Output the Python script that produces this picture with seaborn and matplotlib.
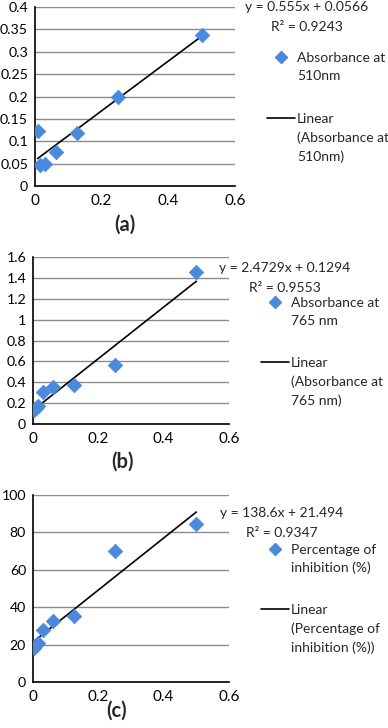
import numpy as np
import pandas as pd
import matplotlib
matplotlib.use("Agg")
import matplotlib.pyplot as plt
from matplotlib.lines import Line2D
import seaborn as sns

sns.set_theme(style="white")
plt.rcParams["font.family"] = ["Lato", "DejaVu Sans"]

# concentration (mg/ml) and responses
conc_a = [0.0078, 0.0156, 0.03125, 0.0625, 0.125, 0.25, 0.5]
abs_510 = [0.122, 0.047, 0.050, 0.075, 0.118, 0.200, 0.338]

conc_bc = [0.0039, 0.0078, 0.0156, 0.03125, 0.0625, 0.125, 0.25, 0.5]
abs_765 = [0.135, 0.150, 0.170, 0.305, 0.350, 0.375, 0.570, 1.460]
inhibition = [18.0, 20.0, 21.0, 28.0, 32.5, 35.5, 70.0, 84.5]

equations = ["y = 0.555x + 0.0566\nR² = 0.9243",
             "y = 2.4729x + 0.1294\nR² = 0.9553",
             "y = 138.6x + 21.494\nR² = 0.9347"]
series_names = [["Absorbance at", "510nm"],
                ["Absorbance at", "765 nm"],
                ["Percentage of", "inhibition (%)"]]
line_names = [["Linear", "(Absorbance at", "510nm)"],
              ["Linear", "(Absorbance at", "765 nm)"],
              ["Linear", "(Percentage of", "inhibition (%))"]]
panel_tags = ["(a)", "(b)", "(c)"]
y_ticks = [np.arange(0, 0.41, 0.05), np.arange(0, 1.61, 0.2), np.arange(0, 101, 20)]

blue = "#4A89DC"
W, H = 388, 728

fig = plt.figure(figsize=(W / 100, H / 100), dpi=100)

# axes boxes in pixels: left, top, right, bottom
boxes = [(35, 7, 235, 186), (33, 257, 229, 424), (33, 495, 229, 682)]
# side notes: eq centre x, eq centre y, legend x, marker row y, line row y, tag x, tag y
notes = [(307, 17, 267, 58, 120, 125, 225),
         (285, 278, 261, 303, 364, 122, 462),
         (282, 523, 261, 550, 611, 117, 711)]

frames = [pd.DataFrame({"x": conc_a, "y": abs_510}),
          pd.DataFrame({"x": conc_bc, "y": abs_765}),
          pd.DataFrame({"x": conc_bc, "y": inhibition})]

fs = 10
for i, df in enumerate(frames):
    l, t, r, b = boxes[i]
    ax = fig.add_axes([l / W, 1 - b / H, (r - l) / W, (b - t) / H])
    sns.regplot(data=df, x="x", y="y", ax=ax, scatter=False, ci=None, truncate=True,
                line_kws={"color": "black", "lw": 1.2})
    sns.scatterplot(data=df, x="x", y="y", ax=ax, marker="D", s=55, color=blue,
                    edgecolor=blue, linewidth=0.5, zorder=3)
    yt = y_ticks[i]
    ax.set_xlim(0, 0.6)
    ax.set_ylim(0, yt[-1])
    ax.set_xticks([0, 0.2, 0.4, 0.6])
    ax.set_xticklabels(["0", "0.2", "0.4", "0.6"])
    ax.set_yticks(yt)
    ax.set_yticklabels(["{:g}".format(round(v, 2)) for v in yt])
    ax.set_xlabel("")
    ax.set_ylabel("")
    ax.yaxis.grid(True, color="#8c8c8c", lw=1.0)
    ax.set_axisbelow(True)
    for s in ["top", "right"]:
        ax.spines[s].set_visible(False)
    for s in ["left", "bottom"]:
        ax.spines[s].set_color("black")
        ax.spines[s].set_linewidth(1.2)
    ax.tick_params(axis="both", direction="out", length=4, width=1.2, color="black",
                   labelsize=11, pad=2, labelcolor="black")
    ax.tick_params(axis="y", pad=1, labelsize=10.2)

    ex, ey, lx, my, ly, tx, ty = notes[i]
    fig.text(ex / W, 1 - ey / H, equations[i], ha="center", va="center",
             multialignment="center", fontsize=fs, linespacing=1.75)

    blank = Line2D([], [], linestyle="none")
    mk = Line2D([], [], marker="D", color=blue, linestyle="none", markersize=6.5)
    ln = Line2D([], [], color="black", lw=1.2)
    leg1 = ax.legend([mk, blank], series_names[i], loc="center left",
                     bbox_to_anchor=(lx / W, 1 - (my + 9) / H), bbox_transform=fig.transFigure,
                     frameon=False, fontsize=fs, handlelength=2.0, handletextpad=0.15,
                     borderpad=0, borderaxespad=0, labelspacing=0.45)
    ax.add_artist(leg1)
    ax.legend([ln, blank, blank], line_names[i], loc="center left",
              bbox_to_anchor=(lx / W, 1 - (ly + 18) / H), bbox_transform=fig.transFigure,
              frameon=False, fontsize=fs, handlelength=2.0, handletextpad=0.15,
              borderpad=0, borderaxespad=0, labelspacing=0.45)

    fig.text(tx / W, 1 - ty / H, panel_tags[i], ha="center", va="center",
             fontsize=14.5, fontweight="bold")

fig.savefig("out.png", dpi=100)
